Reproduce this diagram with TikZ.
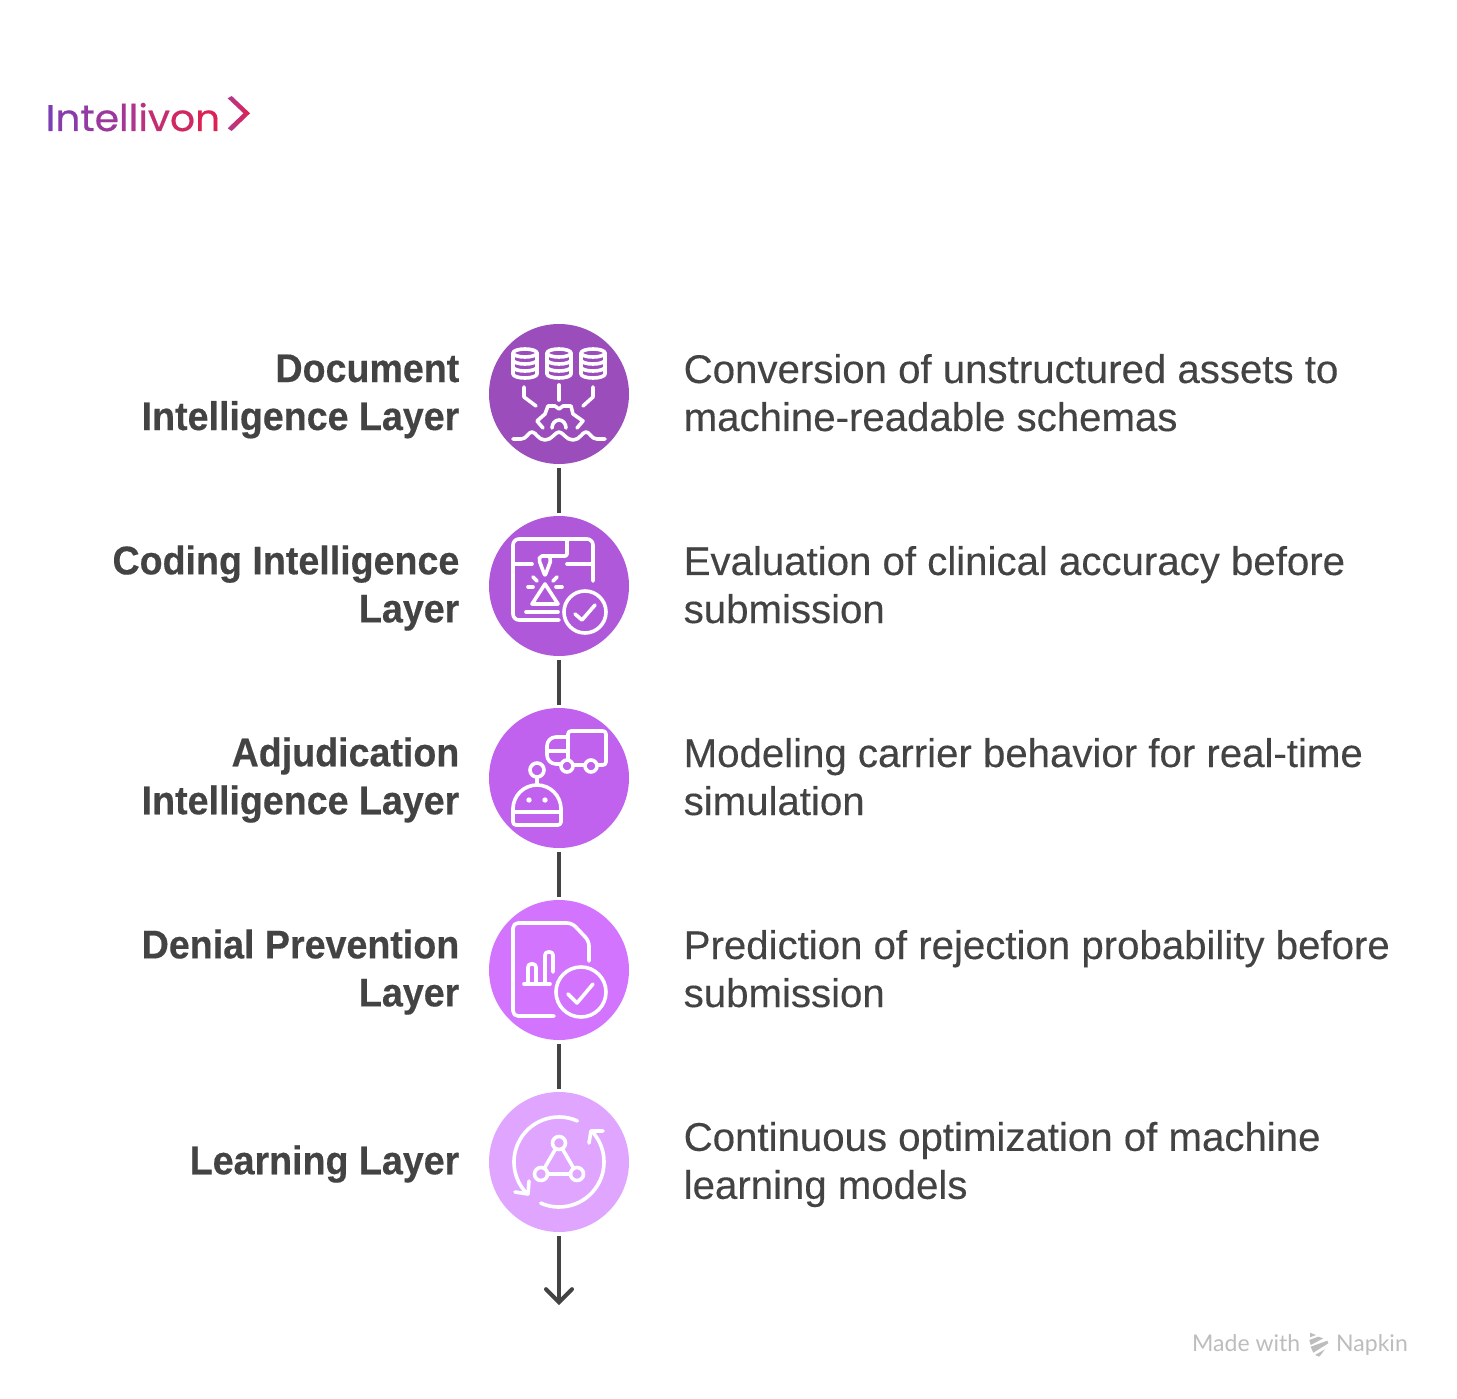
\documentclass[tikz,border=0pt]{standalone}
\usepackage{fontspec}
\setmainfont{Liberation Sans}[UprightFeatures={FakeStretch=1.005,FakeBold=0.25},BoldFeatures={FakeStretch=0.94,FakeBold=0.35}]
\newfontfamily\logofont{Poppins}[FakeStretch=1.06,FakeBold=0.5]
\newfontfamily\markfont{Lato}
\usetikzlibrary{arrows.meta}
\definecolor{inktext}{HTML}{434343}
\definecolor{markgrey}{HTML}{BDBDBD}
\definecolor{layerA}{HTML}{9A4DBB}
\definecolor{layerB}{HTML}{AF58DA}
\definecolor{layerC}{HTML}{C062EE}
\definecolor{layerD}{HTML}{D374FF}
\definecolor{layerE}{HTML}{E0A6FF}
\definecolor{chevleft}{HTML}{B03A90}
\definecolor{chevright}{HTML}{E0204F}
\newcommand{\logoletter}[2]{\textcolor[HTML]{#1}{#2}}
\tikzset{
  layer/.style={circle,minimum size=140pt,inner sep=0pt,outer sep=3.5pt},
  layername/.style={anchor=east,align=right,inner sep=0pt,text=inktext,font=\fontsize{40}{48}\selectfont\bfseries},
  layerinfo/.style={anchor=west,align=left,inner sep=0pt,text=inktext,font=\fontsize{40}{48}\selectfont},
  link/.style={draw=inktext,line width=4pt},
  icon/.style={draw=white,line width=3.6pt,line cap=round,line join=round}
}
\begin{document}
\begin{tikzpicture}[x=1pt,y=-1pt]
\useasboundingbox[fill=white] (0,0) rectangle (1457,1399);
\foreach \i/\y/\c in {1/394/layerA,2/586/layerB,3/778/layerC,4/970/layerD,5/1162/layerE}
    \node[layer,fill=\c] (c\i) at (559,\y) {};
\coordinate (tip) at (559,1305);
\foreach \i/\j in {1/2,2/3,3/4,4/5}
    \draw[link] (c\i) -- (c\j);
\draw[link,-{Straight Barb[length=13pt,width=26pt,line cap=round]}] (c5) -- (tip);
\node[layername] (n1) at (459.5,396.5) {Document\\Intelligence Layer};
\node[layername] (n2) at (459.5,588) {Coding Intelligence\\Layer};
\node[layername] (n3) at (459.5,780) {Adjudication\\Intelligence Layer};
\node[layername] (n4) at (459.5,972) {Denial Prevention\\Layer};
\node[layername] (n5) at (459.5,1164) {Learning Layer};
\node[layerinfo] (d1) at (683.5,392.7) {Conversion of unstructured assets to\\machine-readable schemas};
\node[layerinfo] (d2) at (683.5,584.7) {Evaluation of clinical accuracy before\\submission};
\node[layerinfo] (d3) at (683.5,776.7) {Modeling carrier behavior for real-time\\simulation};
\node[layerinfo] (d4) at (683.5,968.7) {Prediction of rejection probability before\\submission};
\node[layerinfo] (d5) at (683.5,1164.5) {Continuous optimization of machine\\learning models};
% logo
\node[anchor=base west,inner sep=0pt,font=\fontsize{37}{40}\logofont] (logo) at (45.5,131) {\logoletter{7B3FB3}{I}\logoletter{8A3BAA}{n}\logoletter{933AA3}{t}\logoletter{9C389C}{e}\logoletter{A53694}{l}\logoletter{AE348C}{l}\logoletter{B83280}{i}\logoletter{C42D70}{v}\logoletter{D02862}{o}\logoletter{DC2254}{n}};
\shade[left color=chevleft,right color=chevright] (227.7,98.3) -- (231.7,96) -- (250,113.3) -- (231.7,131) -- (227.7,128.3) -- (243.5,113.3) -- cycle;
% watermark
\node[anchor=base west,inner sep=0pt,text=markgrey,font=\fontsize{23}{28}\markfont] (made) at (1192,1351) {Made with};
\node[anchor=base west,inner sep=0pt,text=markgrey,font=\fontsize{23}{28}\markfont] (napkin) at (1336,1351) {Napkin};
\fill[markgrey] (1310,1332.7) -- (1316,1335) -- (1310,1337.3) -- cycle;
\fill[markgrey] (1309.3,1340) -- (1318.3,1336.7) -- (1323.3,1338.3) -- (1310.7,1345) -- cycle;
\fill[markgrey] (1310.7,1346.7) -- (1327.3,1340.7) -- (1328.3,1343.3) -- (1313.3,1352.7) -- cycle;
\fill[markgrey] (1315,1355) -- (1325,1349.3) -- (1319.3,1356.7) -- cycle;
% document icon
\begin{scope}[shift={(c1.center)}]
\foreach \x in {-34,0,34} {
    \draw[icon] (\x-12,-41) arc (180:-180:12 and 4);
    \draw[icon] (\x-12,-41) -- (\x-12,-20) arc (180:0:12 and 4) -- (\x+12,-41);
    \draw[icon] (\x-12,-34) arc (180:0:12 and 4);
    \draw[icon] (\x-12,-27) arc (180:0:12 and 4);
}
\draw[icon] (-35,-7) -- (-35,3) -- (-23,12);
\draw[icon] (0,-9) -- (0,6);
\draw[icon] (34,-7) -- (34,3) -- (24,12);
\draw[icon] (-16,34) -- (-22,27) -- (-14,20) -- (-11,12) -- (-4,12) -- (0,15) -- (4,12) -- (12,12) -- (14,20) -- (24,27) -- (18,34);
\draw[icon] (-7,34) arc (180:360:7 and 8);
\draw[icon] (-46,45) -- (-38,45) .. controls (-32,45) and (-31,38) .. (-27,38) .. controls (-23,38) and (-21,46) .. (-14,46) .. controls (-7,46) and (-4,38) .. (0,38) .. controls (4,38) and (7,46) .. (14,46) .. controls (21,46) and (23,38) .. (27,38) .. controls (31,38) and (32,45) .. (38,45) -- (46,45);
\end{scope}
% coding icon
\begin{scope}[shift={(c2.center)}]
\draw[icon,rounded corners=6pt] (0,34) -- (-46,34) -- (-46,-47) -- (34,-47) -- (34,-5);
\draw[icon] (-46,-22) -- (-27,-22);
\draw[icon] (8,-22) -- (34,-22);
\draw[icon,rounded corners=2pt] (8,-47) -- (8,-30) -- (-19,-30) -- (-20,-26) -- (-14,-10) -- (-8,-26) -- (-10,-30);
\draw[icon] (-26,-9) -- (-22,-5);
\draw[icon] (-2,-9) -- (-6,-5);
\draw[icon] (-31,1) -- (-26,1);
\draw[icon] (-3,1) -- (3,1);
\draw[icon] (-14,-2) -- (-27,18) -- (-1,18) -- cycle;
\draw[icon] (-33,26) -- (-1,26);
\draw[icon] (26,26) circle (21);
\draw[icon] (16,28) -- (23,34) -- (36,19);
\end{scope}
% adjudication icon
\begin{scope}[shift={(c3.center)}]
\draw[icon,rounded corners=3pt] (9,-27) -- (9,-47) -- (47,-47) -- (47,-13) -- (39,-13);
\draw[icon] (14,-13) -- (26,-13);
\draw[icon,rounded corners=9pt] (1,-14) -- (-12,-14) -- (-12,-41) -- (9,-41);
\draw[icon] (-12,-27) -- (9,-27);
\draw[icon] (9,-27) -- (9,-18);
\draw[icon] (8,-12) circle (6);
\draw[icon] (32,-12) circle (6);
\draw[icon] (-22,-8) circle (7);
\draw[icon] (-22,-1) -- (-22,6);
\draw[icon,rounded corners=3pt] (-46,30) -- (-46,47) -- (2,47) -- (2,30);
\draw[icon] (-46,31) arc (180:360:24);
\draw[icon] (-46,34) -- (2,34);
\fill[white] (-30,22) circle (2.7);
\fill[white] (-14,22) circle (2.7);
\end{scope}
% denial icon
\begin{scope}[shift={(c4.center)}]
\draw[icon,rounded corners=5pt] (-5,46) -- (-46,46) -- (-46,-47) -- (13,-47) -- (30,-29) -- (30,-9);
\draw[icon] (22,22) circle (25);
\draw[icon] (9,24) -- (18,33) -- (34,14);
\draw[icon] (-35,14) -- (-9,14);
\draw[icon,rounded corners=3pt] (-31,14) -- (-31,-6) -- (-23,-6) -- (-23,14);
\draw[icon,rounded corners=3pt] (-14,14) -- (-14,-18) -- (-6,-18) -- (-6,2);
\end{scope}
% learning icon
\begin{scope}[shift={(c5.center)}]
\draw[icon] (-66:45) arc (-66:-224:45);
\draw[icon] (-44,30) -- (-31,32) -- (-30,19);
\draw[icon] (114:45) arc (114:-40:45);
\draw[icon] (44,-31) -- (32,-31) -- (30,-19);
\draw[icon] (0,-19) circle (6.5);
\draw[icon] (-18,12) circle (6.5);
\draw[icon] (18,12) circle (6.5);
\draw[icon] (-3.2,-13.5) -- (-14.8,6.5);
\draw[icon] (3.2,-13.5) -- (14.8,6.5);
\draw[icon] (-11.5,12) -- (11.5,12);
\end{scope}
\end{tikzpicture}
\end{document}
